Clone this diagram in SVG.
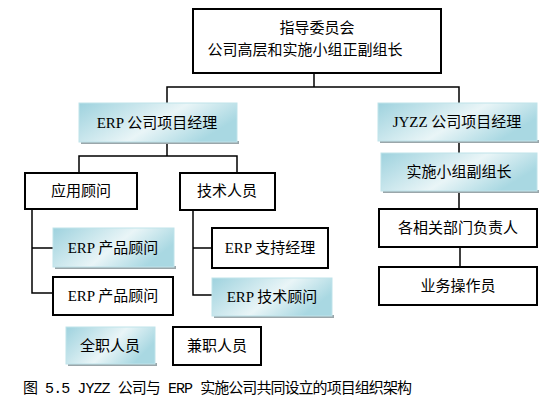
<svg xmlns="http://www.w3.org/2000/svg" width="545" height="406" viewBox="0 0 545 406">
<defs>
<linearGradient id="blue" x1="0" y1="0" x2="1" y2="0.4">
<stop offset="0" stop-color="#9ed2de"/>
<stop offset="0.6" stop-color="#e9f5f7"/>
<stop offset="1" stop-color="#a9d8e2"/>
</linearGradient>
</defs>
<style>
.w{fill:#fff;stroke:#000;stroke-width:2}
.b{fill:url(#blue);stroke:#bfe3ea;stroke-width:1}
.sh{fill:#9aa6aa}
.t{font-family:"Liberation Serif","Noto Sans CJK SC",serif;font-size:15px;fill:#000;text-anchor:middle;dominant-baseline:central}
.c{fill:none;stroke:#000;stroke-width:1.5}
.cap{font-family:"Liberation Mono","Noto Sans CJK SC",monospace;font-size:15px;fill:#000}
</style>
<g id="connectors">
<path class="c" d="M314 73V87"/>
<path class="c" d="M167 103V87H459V103" stroke-width="2"/>
<path class="c" d="M167 143V156"/>
<path class="c" d="M79 173V156H237V173" stroke-width="2"/>
<path class="c" d="M459 142V153"/>
<path class="c" d="M459 192V209"/>
<path class="c" d="M460 247V267"/>
<path class="c" d="M32 209V293H53M32 248H53" stroke-width="2"/>
<path class="c" d="M193 210V295H212M193 248H212" stroke-width="2"/>
</g>
<g id="top">
<rect class="w" x="193" y="9" width="248" height="64"/>
<text class="t" x="317" y="28">指导委员会</text>
<text class="t" x="305" y="50">公司高层和实施小组正副组长</text>
</g>
<g id="erp-pm">
<rect class="sh" x="81" y="141" width="158" height="3"/>
<rect class="b" x="79" y="103" width="158" height="39"/>
<text class="t" x="157" y="123">ERP 公司项目经理</text>
</g>
<g id="jyzz-pm">
<rect class="sh" x="380" y="140" width="159" height="3"/>
<rect class="b" x="378" y="103" width="159" height="38"/>
<text class="t" x="457" y="122">JYZZ 公司项目经理</text>
</g>
<g id="deputy">
<rect class="sh" x="383" y="190" width="156" height="3"/>
<rect class="b" x="381" y="153" width="156" height="38"/>
<text class="t" x="459" y="172">实施小组副组长</text>
</g>
<g id="dept">
<rect class="w" x="379" y="209" width="158" height="38"/>
<text class="t" x="458" y="228">各相关部门负责人</text>
</g>
<g id="operator">
<rect class="w" x="379" y="267" width="158" height="38"/>
<text class="t" x="458" y="286">业务操作员</text>
</g>
<g id="app">
<rect class="w" x="25" y="173" width="112" height="36"/>
<text class="t" x="81" y="191">应用顾问</text>
</g>
<g id="tech">
<rect class="w" x="180" y="173" width="95" height="37"/>
<text class="t" x="227" y="191">技术人员</text>
</g>
<g id="erp-prod1">
<rect class="sh" x="55" y="266" width="121" height="3"/>
<rect class="b" x="53" y="228" width="121" height="39"/>
<text class="t" x="113" y="248">ERP 产品顾问</text>
</g>
<g id="erp-prod2">
<rect class="w" x="53" y="277" width="120" height="38"/>
<text class="t" x="113" y="296">ERP 产品顾问</text>
</g>
<g id="erp-support">
<rect class="w" x="212" y="228" width="116" height="40"/>
<text class="t" x="270" y="248">ERP 支持经理</text>
</g>
<g id="erp-tech">
<rect class="sh" x="214" y="315" width="120" height="3"/>
<rect class="b" x="212" y="278" width="120" height="38"/>
<text class="t" x="272" y="297">ERP 技术顾问</text>
</g>
<g id="fulltime">
<rect class="sh" x="68" y="363" width="89" height="3"/>
<rect class="b" x="66" y="327" width="89" height="37"/>
<text class="t" x="110" y="346">全职人员</text>
</g>
<g id="parttime">
<rect class="w" x="173" y="327" width="88" height="38"/>
<text class="t" x="217" y="346">兼职人员</text>
</g>
<text class="cap" x="23" y="393" textLength="389" lengthAdjust="spacing">图 5.5 JYZZ 公司与 ERP 实施公司共同设立的项目组织架构</text>
</svg>
